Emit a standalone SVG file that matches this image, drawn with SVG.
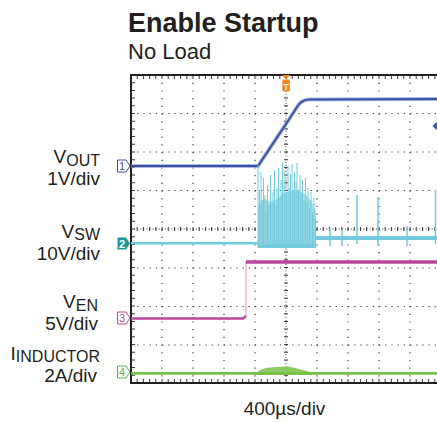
<svg xmlns="http://www.w3.org/2000/svg" width="437" height="422" viewBox="0 0 437 422">
<defs>
<style>
text{font-family:"Liberation Sans",Arial,sans-serif;fill:#231f20}
.lbl{font-size:19px}
.sub{font-size:16px}
.frame{stroke:#231f20;stroke-width:2;fill:none}
.tick{stroke:#3a3a3a;fill:none}
.gv{stroke:#3a3a3a;stroke-width:1.2;stroke-dasharray:1.2 6.5;fill:none}
.gh{stroke:#3a3a3a;stroke-width:1.2;stroke-dasharray:1.2 5;fill:none}
.mk{font-size:11px;text-anchor:middle}
</style>
</defs>
<rect width="437" height="422" fill="#fff"/>

<g id="title">
<text x="128" y="32" style="font-size:27px;font-weight:bold">Enable Startup</text>
<text x="128" y="59" style="font-size:22px">No Load</text>
</g>

<g id="grid">
<path class="gv" d="M162,75V383M193,75V383M224,75V383M255,75V383M317,75V383M348,75V383M379,75V383M410,75V383"/>
<path class="gh" d="M131,113.5H437M131,152H437M131,190.5H437M131,268H437M131,306.5H437M131,345H437"/>
<path class="tick" stroke-width="1" stroke-dasharray="1 2.1" d="M286,75V383M131,229H437"/>
<path class="tick" stroke-width="4" stroke-dasharray="1 5.2" d="M130.5,229H437"/>
<path class="tick" stroke-width="4" stroke-dasharray="1 6.7" d="M286,74.5V383"/>
<path class="tick" stroke-width="4" stroke-dasharray="1 5.2" d="M130.5,77H437M130.5,381H437"/>
<path class="tick" stroke-width="4" stroke-dasharray="1 6.7" d="M133,74.5V383"/>
<path class="frame" d="M437,75H131V383H437"/>
</g>

<g id="traces">
<g id="vout">
<path d="M131,166H258C266,154 278,136 288,121L297,107Q301,100 309,99.5L437,99" fill="none" stroke="#8d9dd2" stroke-width="4" opacity="0.7"/>
<path d="M131,166H258C266,154 278,136 288,121L297,107Q301,100 309,99.5L437,99" fill="none" stroke="#3b51a3" stroke-width="2"/>
<polygon points="432.5,126 436,122.5 437,122.5 437,129.5 436,129.5" fill="#3b51a3"/>
</g>
<g id="vsw">
<path d="M131,243.3H258" stroke="#6fcbdd" stroke-width="2.4" fill="none"/>
<polygon points="258,248 258,205 264,198 272,203 280,196 287,192 296,190 305,194 312,202 316,212 316,248" fill="#a6dde9"/>
<path stroke="#72cadc" stroke-width="1" fill="none" d="M258,248V165M259.5,248V190M261,248V172M262,248V200M263.5,248V178M265,248V195M266,248V210M267.5,248V185M269,248V205M270.5,248V175M272,248V200M273,248V192M274.5,248V170M276,248V205M277,248V188M278.5,248V168M280,248V198M281,248V180M282.5,248V162M284,248V185M285,248V170M286.5,248V192M288,248V166M289,248V188M290.5,248V174M292,248V164M293,248V190M294.5,248V172M296,248V182M297,248V163M298.5,248V190M300,248V175M301,248V196M302.5,248V180M304,248V200M305.5,248V178M307,248V202M308,248V188M309.5,248V208M311,248V192M312.5,248V212M314,248V198M315.5,248V218"/>
<path d="M258,246H316" stroke="#6fcbdd" stroke-width="3" fill="none"/>
<path d="M316,238H437" stroke="#72cadc" stroke-width="4" fill="none"/>
<path stroke="#72cadc" stroke-width="1.5" fill="none" d="M330,246V228M342,246V230M357,244V195M378,246V197M407,246V226M435.5,244V190"/>
</g>
<g id="ven">
<path d="M131,318.5H243Q245,318 245.5,315.5" fill="none" stroke="#b9479b" stroke-width="2.6"/>
<path d="M246,316V262" stroke="#e49fd0" stroke-width="1.2" fill="none"/>
<path d="M246,262H437" stroke="#b9479b" stroke-width="3.4" fill="none"/>
</g>
<g id="iind">
<polygon points="256,374 260,370 266,368 276,367 288,366.5 295,368 303,370 313,373 313,375 256,375" fill="#8ccb62"/>
<path d="M131,373.3H437" stroke="#76c043" stroke-width="2.8" fill="none"/>
</g>
</g>

<g id="markers">
<g id="m1">
<polygon points="117.5,160 126,160 130,166 126,172 117.5,172" fill="#fff" stroke="#3b51a3" stroke-width="1"/>
<text class="mk" x="122" y="170" style="fill:#3b51a3">1</text>
</g>
<g id="m2">
<polygon points="117.5,237.5 126,237.5 130,243.5 126,249.5 117.5,249.5" fill="#1e9a9e"/>
<text class="mk" x="122" y="247.5" style="fill:#fff;font-weight:bold">2</text>
</g>
<g id="m3">
<polygon points="117.5,312 126,312 130,318 126,324 117.5,324" fill="#fff" stroke="#b9479b" stroke-width="1"/>
<text class="mk" x="122" y="322" style="fill:#b9479b">3</text>
</g>
<g id="m4">
<polygon points="117.5,366 126,366 130,372 126,378 117.5,378" fill="#fff" stroke="#4fb848" stroke-width="1"/>
<text class="mk" x="122" y="376" style="fill:#4fb848">4</text>
</g>
<g id="trig">
<polygon points="282,75 290,75 286,79.5" fill="#f58220"/>
<rect x="282.3" y="79.5" width="7.5" height="12" rx="1.5" fill="#f58220"/>
<text x="286" y="89.5" style="font-size:9px;font-weight:bold;fill:#fff;text-anchor:middle">T</text>
</g>
</g>

<g id="labels">
<text class="lbl" x="100" y="163" text-anchor="end">V<tspan class="sub" dy="2.5">OUT</tspan></text>
<text class="lbl" x="100" y="185" text-anchor="end">1V/div</text>
<text class="lbl" x="100" y="237.5" text-anchor="end">V<tspan class="sub" dy="2.5">SW</tspan></text>
<text class="lbl" x="100" y="259.5" text-anchor="end">10V/div</text>
<text class="lbl" x="98" y="308" text-anchor="end">V<tspan class="sub" dy="2.5">EN</tspan></text>
<text class="lbl" x="98" y="329.5" text-anchor="end">5V/div</text>
<text class="lbl" x="100" y="359.5" text-anchor="end">I<tspan class="sub" dy="2.5">INDUCTOR</tspan></text>
<text class="lbl" x="97" y="382" text-anchor="end">2A/div</text>
<text class="lbl" x="284.5" y="415" text-anchor="middle">400µs/div</text>
</g>
</svg>
